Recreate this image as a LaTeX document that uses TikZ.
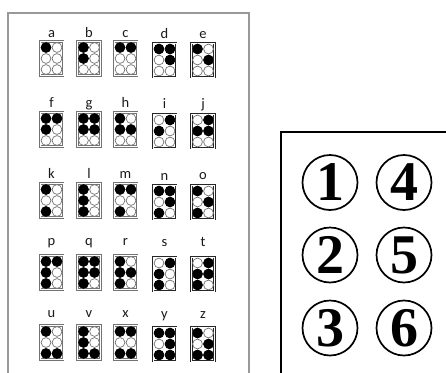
\documentclass[tikz,border=0pt]{standalone}
\usepackage{fontspec}
\setmainfont{Liberation Serif}
\newfontfamily\lettfont{Carlito}
\newcommand\brcell[7]{% #1 style, #2 name, #3 x, #4 y, #5 baseline, #6 letter, #7 raised dots
  \node[#1] (#2) at (#3,#4) {};
  \node[lett] (#2t) at (#3,#5) {#6};
  \foreach \d in {1,...,6}{%
    \pgfmathsetmacro\dx{\d<4 ? -5.5 : 5.5}%
    \pgfmathsetmacro\dy{(mod(\d-1,3)-1)*11}%
    \node[dotE] (#2e\d) at ([shift={(\dx,\dy)}]#2.center) {};
  }
  \foreach \d in {#7}{%
    \pgfmathsetmacro\dx{\d<4 ? -5.5 : 5.5}%
    \pgfmathsetmacro\dy{(mod(\d-1,3)-1)*11}%
    \node[dotF] (#2f\d) at ([shift={(\dx,\dy)}]#2.center) {};
  }
}
\begin{document}
\begin{tikzpicture}[x=1pt,y=-1pt,
  cellA/.style={rectangle, draw=black!55, double=white, double distance=0.8pt, line width=0.7pt, fill=white,
    minimum width=23pt, minimum height=34pt, inner sep=0pt, outer sep=0pt},
  cellB/.style={rectangle, draw=black!85, double=white, double distance=0.8pt, line width=0.7pt, fill=white,
    minimum width=23pt, minimum height=34pt, inner sep=0pt, outer sep=0pt},
  dotE/.style={circle, draw=black!55, line width=0.7pt, fill=white, minimum size=9.8pt, inner sep=0pt},
  dotF/.style={circle, draw=black, line width=0.7pt, fill=black, minimum size=9.8pt, inner sep=0pt},
  lett/.style={anchor=base, inner sep=0pt, text=black!90, font=\lettfont\fontsize{14.5}{16}\selectfont},
  num/.style={circle, draw=black, line width=1.7pt, minimum size=55pt, inner sep=0pt,
    font=\bfseries\fontsize{56}{56}\selectfont},
  panelL/.style={draw=black!40, line width=2pt},
  panelR/.style={draw=black, line width=2.2pt}]
\useasboundingbox (0,0) rectangle (446,372);
% left panel
\draw[panelL] (8,374) -- (8,13) -- (249,13) -- (249,374);
% row 1
\brcell{cellA}{a}{51.5}{58.5}{37}{a}{1}
\brcell{cellA}{b}{89}{58.5}{37}{b}{1,2}
\brcell{cellA}{c}{125.5}{58.5}{37}{c}{1,4}
\brcell{cellB}{d}{164.5}{60}{38}{d}{1,4,5}
\brcell{cellB}{e}{203}{60}{38}{e}{1,5}
% row 2
\brcell{cellA}{f}{51.5}{129.5}{107}{f}{1,2,4}
\brcell{cellA}{g}{89}{129.5}{107}{g}{1,2,4,5}
\brcell{cellA}{h}{125.5}{129.5}{107}{h}{1,2,5}
\brcell{cellB}{i}{164.5}{131}{108}{i}{2,4}
\brcell{cellB}{j}{203}{131}{108}{j}{2,4,5}
% row 3
\brcell{cellA}{k}{51.5}{200.5}{178}{k}{1,3}
\brcell{cellA}{l}{89}{200.5}{178}{l}{1,2,3}
\brcell{cellA}{m}{125.5}{200.5}{178}{m}{1,3,4}
\brcell{cellB}{n}{164.5}{202}{180}{n}{1,3,4,5}
\brcell{cellB}{o}{203}{202}{179}{o}{1,3,5}
% row 4
\brcell{cellA}{p}{51.5}{272.5}{245}{p}{1,2,3,4}
\brcell{cellA}{q}{89}{272.5}{245}{q}{1,2,3,4,5}
\brcell{cellA}{r}{125.5}{272.5}{245}{r}{1,2,3,5}
\brcell{cellB}{s}{164.5}{274}{246}{s}{2,3,4}
\brcell{cellB}{t}{203}{274}{246}{t}{2,3,4,5}
% row 5
\brcell{cellA}{u}{51.5}{342.5}{317}{u}{1,3,6}
\brcell{cellA}{v}{89}{342.5}{317}{v}{1,2,3,6}
\brcell{cellA}{x}{125.5}{342.5}{317}{x}{1,3,4,6}
\brcell{cellB}{y}{164.5}{344}{318}{y}{1,3,4,5,6}
\brcell{cellB}{z}{203}{344}{318}{z}{1,3,5,6}
% right panel
\draw[panelR] (281,374) -- (281,132) -- (448,132);
\node[num] (n1) at (330,182.5) {1};
\node[num] (n4) at (404,182.5) {4};
\node[num] (n2) at (330,255) {2};
\node[num] (n5) at (404,255) {5};
\node[num] (n3) at (330,328) {3};
\node[num] (n6) at (404,328) {6};
\end{tikzpicture}
\end{document}
